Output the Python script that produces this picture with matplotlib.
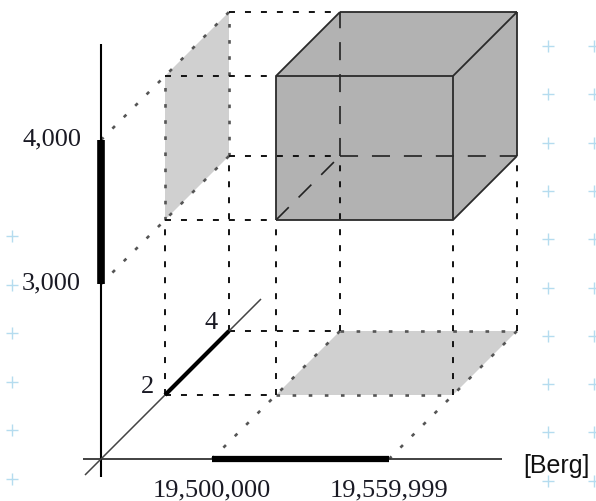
import numpy as np
import matplotlib
matplotlib.use('Agg')
import matplotlib.pyplot as plt
from matplotlib.patches import Polygon

plt.rcParams['lines.scale_dashes'] = False
plt.rcParams['lines.solid_capstyle'] = 'butt'

# ranges of the query box (x = postcode, y = salary, z = age)
x_range = [19500000, 19559999]
y_range = [3000, 4000]
z_range = [2, 4]
x_labels = ['19,500,000', '19,559,999']
y_labels = ['4,000', '3,000']
z_labels = ['2', '4']
y_label_vals = [4000, 3000]

# oblique projection onto the picture (pixels)
X_PX = (212, 389)
Y_PX = (285, 141)
Z_STEP = 32
ORIGIN = (101, 460)

dx = x_range[1] - x_range[0]
dy = y_range[1] - y_range[0]
xo = x_range[0] - (X_PX[0] - ORIGIN[0]) / (X_PX[1] - X_PX[0]) * dx
yo = y_range[0] - (ORIGIN[1] - Y_PX[0]) / (Y_PX[0] - Y_PX[1]) * dy
zo = 0


def P(x, y, z):
    px = X_PX[0] + (x - x_range[0]) / dx * (X_PX[1] - X_PX[0]) + Z_STEP * z
    py = Y_PX[0] - (y - y_range[0]) / dy * (Y_PX[0] - Y_PX[1]) - Z_STEP * z
    return px, py


def seg(a, b, **kw):
    ax.plot([a[0], b[0]], [a[1], b[1]], **kw)


fig = plt.figure(figsize=(5.96, 5.02), dpi=100)
ax = fig.add_axes([0, 0, 1, 1])
ax.set_xlim(0, 596)
ax.set_ylim(502, 0)
ax.axis('off')

# faint watermark crosses
for gx in [12]:
    gy = np.arange(237, 500, 48.5)
    ax.plot([gx] * len(gy), gy, '+', color='#b5dcef', ms=8, mew=1, zorder=0)
for gx in [548, 594]:
    gy = np.arange(47, 500, 48.3)
    ax.plot([gx] * len(gy), gy, '+', color='#b5dcef', ms=8, mew=1, zorder=0)

xa, xb = x_range
ya, yb = y_range
za, zb = z_range

# projections of the box onto the wall and the floor
wall = [P(xo, ya, za), P(xo, yb, za), P(xo, yb, zb), P(xo, ya, zb)]
floor = [P(xa, yo, za), P(xb, yo, za), P(xb, yo, zb), P(xa, yo, zb)]
ax.add_patch(Polygon(wall, closed=True, fc='#d0d0d0', ec='none', zorder=1))
ax.add_patch(Polygon(floor, closed=True, fc='#d0d0d0', ec='none', zorder=1))

# the box itself
outline = [P(xa, ya, za), P(xb, ya, za), P(xb, ya, zb), P(xb, yb, zb),
           P(xa, yb, zb), P(xa, yb, za)]
ax.add_patch(Polygon(outline, closed=True, fc='#b2b2b2', ec='none', zorder=1))

dotted = dict(color='#555555', lw=1.9, ls=(0, (2.6, 9.0)), zorder=2)
dashed = dict(color='#111111', lw=1.4, ls=(0, (4.3, 7.2)), zorder=3)
hidden = dict(color='#222222', lw=1.2, ls=(0, (13, 10)), zorder=3)
solid = dict(color='#2a2a2a', lw=1.3, zorder=4)

# gray dotted projection lines
for y in (ya, yb):
    seg(P(xo, y, zo), P(xo, y, zb), **dotted)
for z in (za, zb):
    seg(P(xo, ya, z), P(xo, yb, z), **dotted)
for x in (xa, xb):
    seg(P(x, yo, zo), P(x, yo, zb), **dotted)
for z in (za, zb):
    seg(P(xa, yo, z), P(xb, yo, z), **dotted)

# black dashed helper grid
for z in (za, zb):
    for y in (ya, yb):
        seg(P(xo, y, z), P(xa, y, z), **dashed)
    seg(P(xo, yo, z), P(xo, ya, z), **dashed)
    seg(P(xo, yo, z), P(xa, yo, z), **dashed)
    for x in (xa, xb):
        seg(P(x, yo, z), P(x, ya, z), **dashed)

# hidden edges of the box
seg(P(xa, ya, zb), P(xa, yb, zb), **hidden)
seg(P(xa, ya, zb), P(xb, ya, zb), **hidden)
seg(P(xa, ya, za), P(xa, ya, zb), **hidden)

# visible edges
front = [P(xa, ya, za), P(xb, ya, za), P(xb, yb, za), P(xa, yb, za), P(xa, ya, za)]
ax.plot([p[0] for p in front], [p[1] for p in front], **solid)
seg(P(xa, yb, za), P(xa, yb, zb), **solid)
seg(P(xa, yb, zb), P(xb, yb, zb), **solid)
seg(P(xb, yb, zb), P(xb, yb, za), **solid)
seg(P(xb, yb, zb), P(xb, ya, zb), **solid)
seg(P(xb, ya, zb), P(xb, ya, za), **solid)

# axes
seg(P(xo - 18 / 177 * dx, yo, zo), P(xo + 401 / 177 * dx, yo, zo), color='#333333', lw=1.3, zorder=5)
seg(P(xo, yo - 18 / 144 * dy, zo), P(xo, yo + 415 / 144 * dy, zo), color='black', lw=1.5, zorder=5)
seg(P(xo, yo, -0.5), P(xo, yo, 5.0), color='#444444', lw=1.1, zorder=5)

# thick ranges on the axes
seg(P(xa, yo, zo), P(xb, yo, zo), color='black', lw=4.5, zorder=6)
seg(P(xo, ya, zo), P(xo, yb, zo), color='black', lw=5.5, zorder=6)
seg(P(xo, yo, za), P(xo, yo, zb), color='black', lw=3.0, zorder=6)

serif = dict(family='Liberation Serif', fontsize=19, color='#1a1a24', zorder=7)
for x, lab in zip(x_range, x_labels):
    px, py = P(x, yo, zo)
    ax.text(px, py + 36, lab, ha='center', va='baseline', **serif)
for y, lab in zip(y_label_vals, y_labels):
    px, py = P(xo, y, zo)
    ax.text(px - 20, py + 4, lab, ha='right', va='baseline', **serif)
for z, lab in zip(z_range, z_labels):
    px, py = P(xo, yo, z)
    ax.text(px - 18, py - 3, lab, ha='center', va='baseline', **serif)

ax.text(523, 473, '[Berg]', family='Liberation Sans', fontsize=18, color='#111111',
        ha='left', va='baseline', zorder=7)

fig.savefig('out.png', dpi=100)
